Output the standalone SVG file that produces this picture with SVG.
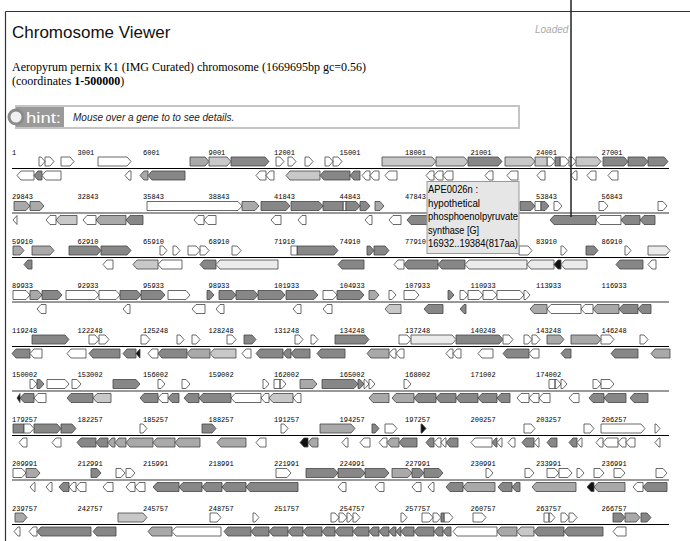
<svg xmlns="http://www.w3.org/2000/svg" width="690" height="541" viewBox="0 0 690 541">
<style>
.sans{font-family:"Liberation Sans",Arial,sans-serif}
.serif{font-family:"Liberation Serif","Times New Roman",serif}
.pos{font-family:"Liberation Mono","DejaVu Sans Mono",monospace;font-size:7px;fill:#000}
.row path{stroke:#444;stroke-width:0.8;stroke-linejoin:miter}
.row path.w{fill:#fff}
.row path.l{fill:#ebebeb}
.row path.g{fill:#c8c8c8}
.row path.m{fill:#a9a9a9}
.row path.d{fill:#878787}
.row path.k{fill:#111}
.ax1{stroke:#000;stroke-width:1}
.ax2{stroke:#999;stroke-width:2}
</style>
<rect x="0" y="0" width="690" height="541" fill="#fff"/>
<g id="frame" fill="none" stroke="#333" stroke-width="1.2">
<line x1="5.5" y1="11.5" x2="690" y2="11.5"/>
<line x1="5.5" y1="11.5" x2="5.5" y2="541"/>
</g>
<g id="header">
<text class="sans" x="12" y="38" font-size="17" fill="#111">Chromosome Viewer</text>
<text class="sans" x="535" y="33" font-size="10" font-style="italic" fill="#aaa">Loaded</text>
<text class="serif" x="12" y="71" font-size="12" fill="#000">Aeropyrum pernix K1 (IMG Curated) chromosome (1669695bp gc=0.56)</text>
<text class="serif" x="12" y="84.5" font-size="12" fill="#000">(coordinates <tspan font-weight="bold">1-500000</tspan>)</text>
</g>
<g id="hint">
<rect x="16" y="106" width="503" height="22" fill="#fff" stroke="#c4c4c4" stroke-width="2"/>
<rect x="16" y="107" width="48" height="20" fill="#9a9a9a"/>
<circle cx="16" cy="117" r="7" fill="#f0f0f0" stroke="#8a8a8a" stroke-width="3"/>
<text class="sans" x="26" y="122.5" font-size="14" fill="#fff" textLength="35" lengthAdjust="spacingAndGlyphs">hint:</text>
<text class="sans" x="73" y="121" font-size="10" font-style="italic" fill="#222">Mouse over a gene to to see details.</text>
</g>

<g id="row1" class="row" transform="translate(0,152)">
<g class="pos"><text x="12" y="2.5">1</text><text x="77.5" y="2.5">3001</text><text x="143" y="2.5">6001</text><text x="208.5" y="2.5">9001</text><text x="274" y="2.5">12001</text><text x="339.5" y="2.5">15001</text><text x="405" y="2.5">18001</text><text x="470.5" y="2.5">21001</text><text x="536" y="2.5">24001</text><text x="601.5" y="2.5">27001</text></g>
<line class="ax1" x1="12" y1="16.5" x2="669" y2="16.5"/>
<path class="w" d="M39 5h2l4 4.5-4 4.5h-2zM45 5h5l4 4.5-4 4.5h-5zM61 5h9l4 4.5-4 4.5h-9zM98 5h29l4 4.5-4 4.5h-29zM276 5h4l4 4.5-4 4.5h-4zM288 5h4l4 4.5-4 4.5h-4zM305 5h4l4 4.5-4 4.5h-4zM325 5h4l4 4.5-4 4.5h-4zM333 5h5l4 4.5-4 4.5h-5zM547 5h4l4 4.5-4 4.5h-4zM560 5h5l4 4.5-4 4.5h-5zM569 5h3l4 4.5-4 4.5h-3zM34 19h-13l-4 4.5 4 4.5h13zM61 19h-15l-4 4.5 4 4.5h15zM131 19h-2l-4 4.5 4 4.5h2zM266 19h-6l-4 4.5 4 4.5h6zM274 19h-4l-4 4.5 4 4.5h4zM370 19h-4l-4 4.5 4 4.5h4zM379 19h-5l-4 4.5 4 4.5h5zM397 19h-8l-4 4.5 4 4.5h8zM434 19h-4l-4 4.5 4 4.5h4zM443 19h-5l-4 4.5 4 4.5h5zM453 19h-6l-4 4.5 4 4.5h6zM493 19h-4l-4 4.5 4 4.5h4zM518 19h-7l-4 4.5 4 4.5h7zM545 19h-4l-4 4.5 4 4.5h4zM577 19h-2l-4 4.5 4 4.5h2zM596 19h-5l-4 4.5 4 4.5h5zM618 19h-6l-4 4.5 4 4.5h6z"/>
<path class="g" d="M209 5h18l4 4.5-4 4.5h-18zM382 5h50l4 4.5-4 4.5h-50zM436 5h28l4 4.5-4 4.5h-28zM505 5h26l4 4.5-4 4.5h-26zM535 5h12v9h-12zM576 5h21l4 4.5-4 4.5h-21zM320 19h-30l-4 4.5 4 4.5h30z"/>
<path class="m" d="M190 5h15l4 4.5-4 4.5h-15zM148 19h-4l-4 4.5 4 4.5h4z"/>
<path class="d" d="M231 5h34l4 4.5-4 4.5h-34zM468 5h30l4 4.5-4 4.5h-30zM555 5h5v9h-5zM603 5h21l4 4.5-4 4.5h-21zM628 5h16l4 4.5-4 4.5h-16zM648 5h16l4 4.5-4 4.5h-16zM42 19h-4l-4 4.5 4 4.5h4zM185 19h-33l-4 4.5 4 4.5h33zM350 19h-26l-4 4.5 4 4.5h26zM360 19h-6l-4 4.5 4 4.5h6z"/>
</g>

<g id="row2" class="row" transform="translate(0,196.5)">
<g class="pos"><text x="12" y="2.5">29843</text><text x="77.5" y="2.5">32843</text><text x="143" y="2.5">35843</text><text x="208.5" y="2.5">38843</text><text x="274" y="2.5">41843</text><text x="339.5" y="2.5">44843</text><text x="405" y="2.5">47843</text><text x="536" y="2.5">53843</text><text x="601.5" y="2.5">56843</text></g>
<line class="ax2" x1="12" y1="16.5" x2="669" y2="16.5"/>
<path class="m" d="M14 5h12l4 4.5-4 4.5h-12zM30 5h10l4 4.5-4 4.5h-10zM242 5h13l4 4.5-4 4.5h-13zM375 5h5l4 4.5-4 4.5h-5zM126 19h-26l-4 4.5 4 4.5h26z"/>
<path class="w" d="M147 5h91l4 4.5-4 4.5h-91zM343 5h3v9h-3zM535 5h6v9h-6zM554 5h4l4 4.5-4 4.5h-4zM599 5h5l4 4.5-4 4.5h-5zM658 5h5l4 4.5-4 4.5h-5zM17 19l-4 4.5 4 4.5zM56 19h-6l-4 4.5 4 4.5h6zM96 19h-9l-4 4.5 4 4.5h9zM204 19h-6l-4 4.5 4 4.5h6zM216 19h-8l-4 4.5 4 4.5h8zM281 19h-6l-4 4.5 4 4.5h6zM306 19h-4l-4 4.5 4 4.5h4zM372 19h-3l-4 4.5 4 4.5h3zM401 19h-8l-4 4.5 4 4.5h8zM621 19h-21l-4 4.5 4 4.5h21z"/>
<path class="g" d="M77 19h-17l-4 4.5 4 4.5h17z"/>
<path class="d" d="M261 5h25l4 4.5-4 4.5h-25zM291 5h28l4 4.5-4 4.5h-28zM323 5h20v9h-20zM346 5h10l4 4.5-4 4.5h-10zM360 5h6l4 4.5-4 4.5h-6zM520 5h11l4 4.5-4 4.5h-11zM541 5h4l4 4.5-4 4.5h-4zM143 19h-13l-4 4.5 4 4.5h13zM430 19h-19l-4 4.5 4 4.5h19zM596 19h-42l-4 4.5 4 4.5h42zM640 19h-15l-4 4.5 4 4.5h15zM655 19h-11l-4 4.5 4 4.5h11z"/>
</g>

<g id="row3" class="row" transform="translate(0,241)">
<g class="pos"><text x="12" y="2.5">59910</text><text x="77.5" y="2.5">62910</text><text x="143" y="2.5">65910</text><text x="208.5" y="2.5">68910</text><text x="274" y="2.5">71910</text><text x="339.5" y="2.5">74910</text><text x="405" y="2.5">77910</text><text x="536" y="2.5">83910</text><text x="601.5" y="2.5">86910</text></g>
<line class="ax1" x1="12" y1="16.5" x2="669" y2="16.5"/>
<path class="m" d="M13 5h7l4 4.5-4 4.5h-7zM32 5h18l4 4.5-4 4.5h-18z"/>
<path class="d" d="M69 5h28l4 4.5-4 4.5h-28zM101 5h26l4 4.5-4 4.5h-26zM297 5h37l4 4.5-4 4.5h-37zM367 5h3l4 4.5-4 4.5h-3zM374 5h11l4 4.5-4 4.5h-11zM586 5h8l4 4.5-4 4.5h-8zM32 19h-4l-4 4.5 4 4.5h4zM216 19h-12l-4 4.5 4 4.5h12zM364 19h-22l-4 4.5 4 4.5h22zM438 19h-30l-4 4.5 4 4.5h30zM465 19h-23l-4 4.5 4 4.5h23zM643 19h-23l-4 4.5 4 4.5h23z"/>
<path class="w" d="M160 5h3l4 4.5-4 4.5h-3zM173 5h3l4 4.5-4 4.5h-3zM188 5h8l4 4.5-4 4.5h-8zM200 5h5l4 4.5-4 4.5h-5zM232 5h5l4 4.5-4 4.5h-5zM291 5h6v9h-6zM519 5h9l4 4.5-4 4.5h-9zM561 5h2l4 4.5-4 4.5h-2zM625 5h2l4 4.5-4 4.5h-2zM113 19h-6l-4 4.5 4 4.5h6zM182 19h-20l-4 4.5 4 4.5h20zM404 19h-6l-4 4.5 4 4.5h6zM656 19h-4l-4 4.5 4 4.5h4z"/>
<path class="l" d="M648 5h18l4 4.5-4 4.5h-18zM278 19h-58l-4 4.5 4 4.5h58zM527 19h-58l-4 4.5 4 4.5h58zM554 19h-23l-4 4.5 4 4.5h23zM587 19h-22l-4 4.5 4 4.5h22z"/>
<path class="g" d="M158 19h-21l-4 4.5 4 4.5h21z"/>
<path class="k" d="M561 19h-3l-4 4.5 4 4.5h3z"/>
</g>

<g id="row4" class="row" transform="translate(0,285.5)">
<g class="pos"><text x="12" y="2.5">89933</text><text x="77.5" y="2.5">92933</text><text x="143" y="2.5">95933</text><text x="208.5" y="2.5">98933</text><text x="274" y="2.5">101933</text><text x="339.5" y="2.5">104933</text><text x="405" y="2.5">107933</text><text x="470.5" y="2.5">110933</text><text x="536" y="2.5">113933</text><text x="601.5" y="2.5">116933</text></g>
<line class="ax2" x1="12" y1="16.5" x2="669" y2="16.5"/>
<path class="w" d="M13 5h13l4 4.5-4 4.5h-13zM66 5h29l4 4.5-4 4.5h-29zM99 5h17l4 4.5-4 4.5h-17zM168 5h18l4 4.5-4 4.5h-18zM323 5h10l4 4.5-4 4.5h-10zM389 5h3l4 4.5-4 4.5h-3zM404 5h11l4 4.5-4 4.5h-11zM460 5h4l4 4.5-4 4.5h-4zM468 5h11l4 4.5-4 4.5h-11zM483 5h10l4 4.5-4 4.5h-10zM497 5h23l4 4.5-4 4.5h-23zM524 5h2l4 4.5-4 4.5h-2zM46 19h-5l-4 4.5 4 4.5h5zM130 19h-3l-4 4.5 4 4.5h3zM205 19h-9l-4 4.5 4 4.5h9zM224 19h-4l-4 4.5 4 4.5h4zM301 19h-4l-4 4.5 4 4.5h4zM332 19h-5l-4 4.5 4 4.5h5zM581 19h-30l-4 4.5 4 4.5h30zM593 19h-8l-4 4.5 4 4.5h8z"/>
<path class="m" d="M30 5h8l4 4.5-4 4.5h-8zM369 5h6l4 4.5-4 4.5h-6zM547 19h-13l-4 4.5 4 4.5h13zM619 19h-22l-4 4.5 4 4.5h22z"/>
<path class="d" d="M42 5h16l4 4.5-4 4.5h-16zM120 5h17l4 4.5-4 4.5h-17zM141 5h20l4 4.5-4 4.5h-20zM207 5h3l4 4.5-4 4.5h-3zM219 5h13l4 4.5-4 4.5h-13zM236 5h18l4 4.5-4 4.5h-18zM258 5h23l4 4.5-4 4.5h-23zM286 5h28l4 4.5-4 4.5h-28zM337 5h23l4 4.5-4 4.5h-23zM448 5h2l4 4.5-4 4.5h-2zM443 19h-15l-4 4.5 4 4.5h15zM466 19h-2l-4 4.5 4 4.5h2zM638 19h-15l-4 4.5 4 4.5h15zM651 19h-9l-4 4.5 4 4.5h9z"/>
<path class="g" d="M401 19h-12l-4 4.5 4 4.5h12z"/>
</g>

<g id="row5" class="row" transform="translate(0,330)">
<g class="pos"><text x="12" y="2.5">119248</text><text x="77.5" y="2.5">122248</text><text x="143" y="2.5">125248</text><text x="208.5" y="2.5">128248</text><text x="274" y="2.5">131248</text><text x="339.5" y="2.5">134248</text><text x="405" y="2.5">137248</text><text x="470.5" y="2.5">140248</text><text x="536" y="2.5">143248</text><text x="601.5" y="2.5">146248</text></g>
<line class="ax1" x1="12" y1="16.5" x2="669" y2="16.5"/>
<path class="d" d="M32 5h33l4 4.5-4 4.5h-33zM244 5h8l4 4.5-4 4.5h-8zM335 5h30l4 4.5-4 4.5h-30zM456 5h43l4 4.5-4 4.5h-43zM30 19h-14l-4 4.5 4 4.5h14zM120 19h-27l-4 4.5 4 4.5h27zM136 19h-9l-4 4.5 4 4.5h9zM187 19h-25l-4 4.5 4 4.5h25zM283 19h-23l-4 4.5 4 4.5h23zM291 19h-4l-4 4.5 4 4.5h4zM310 19h-15l-4 4.5 4 4.5h15zM345 19h-24l-4 4.5 4 4.5h24zM529 19h-22l-4 4.5 4 4.5h22zM571 19h-6l-4 4.5 4 4.5h6zM638 19h-23l-4 4.5 4 4.5h23z"/>
<path class="w" d="M89 5h6l4 4.5-4 4.5h-6zM99 5h6l4 4.5-4 4.5h-6zM141 5h5l4 4.5-4 4.5h-5zM177 5h3l4 4.5-4 4.5h-3zM192 5h4l4 4.5-4 4.5h-4zM227 5h5l4 4.5-4 4.5h-5zM295 5h4l4 4.5-4 4.5h-4zM311 5h3l4 4.5-4 4.5h-3zM399 5h8l4 4.5-4 4.5h-8zM503 5h6l4 4.5-4 4.5h-6zM524 5h4l4 4.5-4 4.5h-4zM532 5h4l4 4.5-4 4.5h-4zM601 5h9l4 4.5-4 4.5h-9zM640 5h4l4 4.5-4 4.5h-4zM42 19h-8l-4 4.5 4 4.5h8zM86 19h-15l-4 4.5 4 4.5h15zM158 19h-6l-4 4.5 4 4.5h6zM251 19h-5l-4 4.5 4 4.5h5zM396 19h-3l-4 4.5 4 4.5h3zM404 19h-4l-4 4.5 4 4.5h4zM453 19h-3l-4 4.5 4 4.5h3zM461 19h-4l-4 4.5 4 4.5h4zM493 19h-11l-4 4.5 4 4.5h11zM539 19h-6l-4 4.5 4 4.5h6z"/>
<path class="l" d="M411 5h41l4 4.5-4 4.5h-41z"/>
<path class="m" d="M547 5h13l4 4.5-4 4.5h-13zM571 5h26l4 4.5-4 4.5h-26zM210 19h-19l-4 4.5 4 4.5h19zM389 19h-18l-4 4.5 4 4.5h18zM670 19h-15l-4 4.5 4 4.5h15z"/>
<path class="g" d="M236 19h-22l-4 4.5 4 4.5h22z"/>
<path class="k" d="M140 19l-4 4.5 4 4.5z"/>
</g>

<g id="row6" class="row" transform="translate(0,374.5)">
<g class="pos"><text x="12" y="2.5">150002</text><text x="77.5" y="2.5">153002</text><text x="143" y="2.5">156002</text><text x="208.5" y="2.5">159002</text><text x="274" y="2.5">162002</text><text x="339.5" y="2.5">165002</text><text x="405" y="2.5">168002</text><text x="470.5" y="2.5">171002</text><text x="536" y="2.5">174002</text></g>
<line class="ax2" x1="12" y1="16.5" x2="669" y2="16.5"/>
<path class="w" d="M30 5h3l4 4.5-4 4.5h-3zM47 5h18l4 4.5-4 4.5h-18zM72 5h5l4 4.5-4 4.5h-5zM158 5h3l4 4.5-4 4.5h-3zM182 5h4l4 4.5-4 4.5h-4zM263 5h2l4 4.5-4 4.5h-2zM274 5h6v9h-6zM280 5h2l4 4.5-4 4.5h-2zM364 5h1l4 4.5-4 4.5h-1zM369 5h2l4 4.5-4 4.5h-2zM404 5h3l4 4.5-4 4.5h-3zM549 5h6v9h-6zM555 5h2l4 4.5-4 4.5h-2zM561 5h2l4 4.5-4 4.5h-2zM593 5h4l4 4.5-4 4.5h-4zM601 5h9l4 4.5-4 4.5h-9zM46 19h-8l-4 4.5 4 4.5h8zM168 19h-6l-4 4.5 4 4.5h6zM261 19h-26l-4 4.5 4 4.5h26zM269 19h-4l-4 4.5 4 4.5h4zM301 19h-4l-4 4.5 4 4.5h4zM529 19h-8l-4 4.5 4 4.5h8zM539 19h-6l-4 4.5 4 4.5h6zM550 19h-7l-4 4.5 4 4.5h7zM579 19h-6l-4 4.5 4 4.5h6z"/>
<path class="d" d="M37 5h3l4 4.5-4 4.5h-3zM113 5h23l4 4.5-4 4.5h-23zM322 5h32l4 4.5-4 4.5h-32zM358 5h2l4 4.5-4 4.5h-2zM34 19h-10l-4 4.5 4 4.5h10zM93 19h-22l-4 4.5 4 4.5h22zM158 19h-14l-4 4.5 4 4.5h14zM179 19h-7l-4 4.5 4 4.5h7zM199 19h-11l-4 4.5 4 4.5h11zM231 19h-28l-4 4.5 4 4.5h28zM436 19h-18l-4 4.5 4 4.5h18zM456 19h-16l-4 4.5 4 4.5h16zM478 19h-18l-4 4.5 4 4.5h18zM497 19h-15l-4 4.5 4 4.5h15zM510 19h-9l-4 4.5 4 4.5h9zM604 19h-11l-4 4.5 4 4.5h11zM626 19h-18l-4 4.5 4 4.5h18zM648 19h-14l-4 4.5 4 4.5h14z"/>
<path class="m" d="M300 5h13l4 4.5-4 4.5h-13zM389 19h-16l-4 4.5 4 4.5h16zM414 19h-18l-4 4.5 4 4.5h18z"/>
<path class="g" d="M111 19h-14l-4 4.5 4 4.5h14zM293 19h-20l-4 4.5 4 4.5h20z"/>
<path class="k" d="M20 19l-3 4.5 3 4.5z"/>
</g>

<g id="row7" class="row" transform="translate(0,419)">
<g class="pos"><text x="12" y="2.5">179257</text><text x="77.5" y="2.5">182257</text><text x="143" y="2.5">185257</text><text x="208.5" y="2.5">188257</text><text x="274" y="2.5">191257</text><text x="339.5" y="2.5">194257</text><text x="405" y="2.5">197257</text><text x="470.5" y="2.5">200257</text><text x="536" y="2.5">203257</text><text x="601.5" y="2.5">206257</text></g>
<line class="ax1" x1="12" y1="16.5" x2="669" y2="16.5"/>
<path class="d" d="M13 5h11v9h-11zM34 5h23l4 4.5-4 4.5h-23zM61 5h11l4 4.5-4 4.5h-11zM202 5h10l4 4.5-4 4.5h-10zM372 5h3l4 4.5-4 4.5h-3zM96 19h-15l-4 4.5 4 4.5h15zM108 19h-8l-4 4.5 4 4.5h8zM417 19h-14l-4 4.5 4 4.5h14zM434 19h-4l-4 4.5 4 4.5h4zM458 19h-8l-4 4.5 4 4.5h8zM497 19h-1l-4 4.5 4 4.5h1zM534 19h-8l-4 4.5 4 4.5h8zM557 19h-6l-4 4.5 4 4.5h6zM577 19h-4l-4 4.5 4 4.5h4z"/>
<path class="w" d="M24 5h6l4 4.5-4 4.5h-6zM140 5h3l4 4.5-4 4.5h-3zM281 5h3l4 4.5-4 4.5h-3zM385 5h8l4 4.5-4 4.5h-8zM524 5h7l4 4.5-4 4.5h-7zM584 5h6l4 4.5-4 4.5h-6zM601 5h40l4 4.5-4 4.5h-40zM655 5h1l4 4.5-4 4.5h-1zM27 19h-4l-4 4.5 4 4.5h4zM61 19h-5l-4 4.5 4 4.5h5zM266 19h-6l-4 4.5 4 4.5h6zM348 19h-2l-4 4.5 4 4.5h2zM370 19h-6l-4 4.5 4 4.5h6zM387 19h-4l-4 4.5 4 4.5h4zM441 19h-3l-4 4.5 4 4.5h3zM446 19h-1l-4 4.5 4 4.5h1zM492 19h-17l-4 4.5 4 4.5h17zM502 19h-1l-4 4.5 4 4.5h1zM515 19h-3l-4 4.5 4 4.5h3zM539 19h-1l-4 4.5 4 4.5h1zM582 19h-1l-4 4.5 4 4.5h1zM603 19h-3l-4 4.5 4 4.5h3zM618 19h-11l-4 4.5 4 4.5h11zM626 19h-4l-4 4.5 4 4.5h4zM635 19h-5l-4 4.5 4 4.5h5zM660 19h-1l-4 4.5 4 4.5h1z"/>
<path class="m" d="M320 5h31l4 4.5-4 4.5h-31zM115 19h-3l-4 4.5 4 4.5h3zM126 19h-7l-4 4.5 4 4.5h7zM153 19h-23l-4 4.5 4 4.5h23zM175 19h-18l-4 4.5 4 4.5h18zM200 19h-21l-4 4.5 4 4.5h21zM246 19h-25l-4 4.5 4 4.5h25zM318 19h-6l-4 4.5 4 4.5h6zM399 19h-8l-4 4.5 4 4.5h8z"/>
<path class="k" d="M421 5h1l4 4.5-4 4.5h-1zM308 19h-4l-4 4.5 4 4.5h4z"/>
</g>

<g id="row8" class="row" transform="translate(0,463.5)">
<g class="pos"><text x="12" y="2.5">209991</text><text x="77.5" y="2.5">212991</text><text x="143" y="2.5">215991</text><text x="208.5" y="2.5">218991</text><text x="274" y="2.5">221991</text><text x="339.5" y="2.5">224991</text><text x="405" y="2.5">227991</text><text x="470.5" y="2.5">230991</text><text x="536" y="2.5">233991</text><text x="601.5" y="2.5">236991</text></g>
<line class="ax2" x1="12" y1="16.5" x2="669" y2="16.5"/>
<path class="w" d="M13 5h9l4 4.5-4 4.5h-9zM116 5h5l4 4.5-4 4.5h-5zM126 5h5l4 4.5-4 4.5h-5zM276 5h11l4 4.5-4 4.5h-11zM486 5h3l4 4.5-4 4.5h-3zM525 5h5l4 4.5-4 4.5h-5zM547 5h8l4 4.5-4 4.5h-8zM559 5h9l4 4.5-4 4.5h-9zM577 5h3l4 4.5-4 4.5h-3zM594 5h6l4 4.5-4 4.5h-6zM614 5h7l4 4.5-4 4.5h-7zM656 5h7l4 4.5-4 4.5h-7zM35 19h-1l-4 4.5 4 4.5h1zM52 19h-2l-4 4.5 4 4.5h2zM76 19h-3l-4 4.5 4 4.5h3zM86 19h-6l-4 4.5 4 4.5h6zM113 19h-6l-4 4.5 4 4.5h6zM135 19h-5l-4 4.5 4 4.5h5zM145 19h-6l-4 4.5 4 4.5h6zM346 19h-4l-4 4.5 4 4.5h4zM384 19h-5l-4 4.5 4 4.5h5zM421 19h-5l-4 4.5 4 4.5h5zM434 19h-2l-4 4.5 4 4.5h2zM643 19h-6l-4 4.5 4 4.5h6z"/>
<path class="m" d="M26 5h10l4 4.5-4 4.5h-10zM392 5h16l4 4.5-4 4.5h-16zM495 19h-28l-4 4.5 4 4.5h28zM576 19h-40l-4 4.5 4 4.5h40zM625 19h-27l-4 4.5 4 4.5h27z"/>
<path class="d" d="M91 5h6l4 4.5-4 4.5h-6zM306 5h28l4 4.5-4 4.5h-28zM338 5h23l4 4.5-4 4.5h-23zM365 5h20l4 4.5-4 4.5h-20zM412 5h8l4 4.5-4 4.5h-8zM424 5h15l4 4.5-4 4.5h-15zM69 19h-6l-4 4.5 4 4.5h6zM179 19h-22l-4 4.5 4 4.5h22zM202 19h-19l-4 4.5 4 4.5h19zM222 19h-16l-4 4.5 4 4.5h16zM246 19h-20l-4 4.5 4 4.5h20zM298 19h-48l-4 4.5 4 4.5h48zM463 19h-13l-4 4.5 4 4.5h13zM512 19h-10l-4 4.5 4 4.5h10zM520 19h-4l-4 4.5 4 4.5h4zM667 19h-20l-4 4.5 4 4.5h20z"/>
<path class="k" d="M594 19h-3l-4 4.5 4 4.5h3z"/>
</g>

<g id="row9" class="row" transform="translate(0,508)">
<g class="pos"><text x="12" y="2.5">239757</text><text x="77.5" y="2.5">242757</text><text x="143" y="2.5">245757</text><text x="208.5" y="2.5">248757</text><text x="274" y="2.5">251757</text><text x="339.5" y="2.5">254757</text><text x="405" y="2.5">257757</text><text x="470.5" y="2.5">260757</text><text x="536" y="2.5">263757</text><text x="601.5" y="2.5">266757</text></g>
<line class="ax1" x1="12" y1="16.5" x2="669" y2="16.5"/>
<path class="m" d="M15 5h8l4 4.5-4 4.5h-8zM625 5h11l4 4.5-4 4.5h-11zM172 19h-20l-4 4.5 4 4.5h20zM517 19h-16l-4 4.5 4 4.5h16z"/>
<path class="g" d="M118 5h25l4 4.5-4 4.5h-25zM534 19h-13l-4 4.5 4 4.5h13z"/>
<path class="w" d="M210 5h7l4 4.5-4 4.5h-7zM253 5h2l4 4.5-4 4.5h-2zM331 5h4l4 4.5-4 4.5h-4zM339 5h4l4 4.5-4 4.5h-4zM347 5h2l4 4.5-4 4.5h-2zM353 5h3l4 4.5-4 4.5h-3zM401 5h2l4 4.5-4 4.5h-2zM422 5h7l4 4.5-4 4.5h-7zM433 5h4l4 4.5-4 4.5h-4zM444 5h5l4 4.5-4 4.5h-5zM473 5h9l4 4.5-4 4.5h-9zM544 5h5v9h-5zM549 5h2l4 4.5-4 4.5h-2zM561 5h4l4 4.5-4 4.5h-4zM569 5h4l4 4.5-4 4.5h-4zM20 19h-2l-4 4.5 4 4.5h2zM37 19h-4l-4 4.5 4 4.5h4zM221 19h-45l-4 4.5 4 4.5h45zM497 19h-40l-4 4.5 4 4.5h40zM626 19h-9l-4 4.5 4 4.5h9z"/>
<path class="d" d="M441 5h3v9h-3zM613 5h8l4 4.5-4 4.5h-8zM641 5h6l4 4.5-4 4.5h-6zM91 19h-50l-4 4.5 4 4.5h50zM116 19h-19l-4 4.5 4 4.5h19zM251 19h-23l-4 4.5 4 4.5h23zM269 19h-14l-4 4.5 4 4.5h14zM288 19h-15l-4 4.5 4 4.5h15zM303 19h-11l-4 4.5 4 4.5h11zM322 19h-15l-4 4.5 4 4.5h15zM335 19h-9l-4 4.5 4 4.5h9zM353 19h-14l-4 4.5 4 4.5h14zM369 19h-12l-4 4.5 4 4.5h12zM379 19h-6l-4 4.5 4 4.5h6zM389 19h-6l-4 4.5 4 4.5h6zM396 19h-3l-4 4.5 4 4.5h3zM401 19h-1l-4 4.5 4 4.5h1zM414 19h-9l-4 4.5 4 4.5h9zM434 19h-16l-4 4.5 4 4.5h16zM443 19h-5l-4 4.5 4 4.5h5zM451 19h-4l-4 4.5 4 4.5h4zM564 19h-26l-4 4.5 4 4.5h26zM603 19h-35l-4 4.5 4 4.5h35z"/>
</g>

<g id="tooltip">
<rect x="427" y="181.5" width="92" height="72" fill="#e6e6e6" stroke="#999" stroke-width="1"/>
<g class="sans" font-size="11" fill="#000">
<text x="428" y="193" textLength="50" lengthAdjust="spacingAndGlyphs">APE0026n :</text>
<text x="428" y="206.5" textLength="52" lengthAdjust="spacingAndGlyphs">hypothetical</text>
<text x="428" y="220" textLength="90" lengthAdjust="spacingAndGlyphs">phosphoenolpyruvate</text>
<text x="428" y="233.5" textLength="51" lengthAdjust="spacingAndGlyphs">synthase [G]</text>
<text x="428" y="247" textLength="90" lengthAdjust="spacingAndGlyphs">16932..19384(817aa)</text>
</g>
</g>
<g id="pointer">
<line x1="571" y1="0" x2="571" y2="217" stroke="#222" stroke-width="1.5"/>
</g>
</svg>
